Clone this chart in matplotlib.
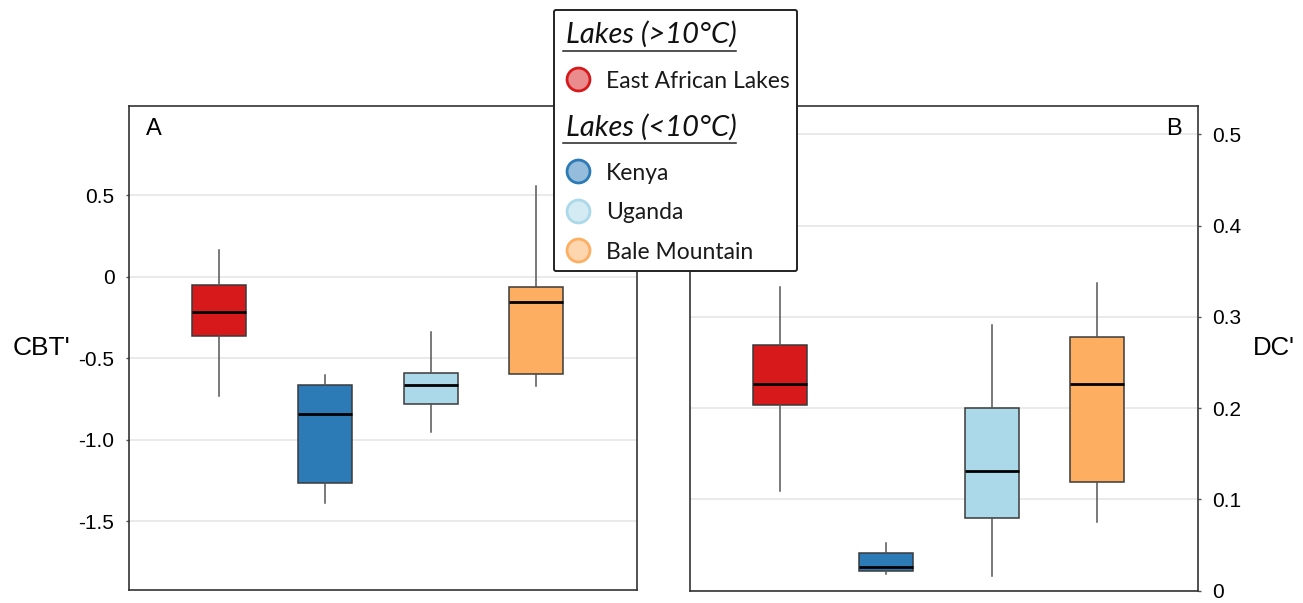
import matplotlib.pyplot as plt
from matplotlib.patches import FancyBboxPatch
from matplotlib.colors import to_rgba

sites = ["East African Lakes", "Kenya", "Uganda", "Bale Mountain"]
colors = ["#d7191c", "#2c7bb6", "#abd9e9", "#fdae61"]

# CBT' summary (whisker low, Q1, median, Q3, whisker high)
cbt_whislo = [-0.736, -1.390, -0.951, -0.669]
cbt_q1 = [-0.362, -1.268, -0.783, -0.601]
cbt_med = [-0.215, -0.846, -0.664, -0.157]
cbt_q3 = [-0.051, -0.664, -0.593, -0.065]
cbt_whishi = [0.164, -0.607, -0.343, 0.558]

# DC' summary
dc_whislo = [0.109, 0.018, 0.016, 0.075]
dc_q1 = [0.203, 0.021, 0.080, 0.119]
dc_med = [0.226, 0.026, 0.131, 0.226]
dc_q3 = [0.269, 0.041, 0.200, 0.278]
dc_whishi = [0.333, 0.052, 0.291, 0.337]

cbt_ticks = [0.5, 0, -0.5, -1.0, -1.5]
cbt_ticklabels = ["0.5", "0", "-0.5", "-1.0", "-1.5"]
dc_ticks = [0, 0.1, 0.2, 0.3, 0.4, 0.5]
dc_ticklabels = ["0", "0.1", "0.2", "0.3", "0.4", "0.5"]

groups = [("Lakes (>10°C)", [0]), ("Lakes (<10°C)", [1, 2, 3])]

plt.rcParams['font.family'] = ['Liberation Sans', 'DejaVu Sans']
W, H = 1303, 603
fig = plt.figure(figsize=(W / 100, H / 100), dpi=100)


def panel(rect, lo, q1, med, q3, hi, ylim, ticks, ticklabels, side, letter, ylabel):
    ax = fig.add_axes(rect)
    stats = []
    for i in range(len(sites)):
        stats.append(dict(whislo=lo[i], q1=q1[i], med=med[i], q3=q3[i], whishi=hi[i], fliers=[]))
    bp = ax.bxp(stats, positions=[1, 2, 3, 4], widths=0.51, patch_artist=True, showcaps=False,
                boxprops=dict(edgecolor='#3a3a3a', linewidth=1.1),
                whiskerprops=dict(color='#555555', linewidth=1.1),
                medianprops=dict(color='black', linewidth=2), zorder=3)
    for patch, c in zip(bp['boxes'], colors):
        patch.set_facecolor(c)
    ax.set_xlim(0.15, 4.95)
    ax.set_ylim(*ylim)
    ax.set_xticks([])
    ax.set_yticks(ticks)
    ax.set_yticklabels(ticklabels)
    ax.grid(axis='y', color='#e6e6e6', linewidth=1.2, zorder=0)
    ax.set_axisbelow(True)
    for s in ax.spines.values():
        s.set_color('#333333')
        s.set_linewidth(1.2)
    if side == 'right':
        ax.yaxis.tick_right()
        ax.text(0.968, 0.975, letter, transform=ax.transAxes, ha='right', va='top', fontsize=17)
        ax.text(1.108, 0.5, ylabel, transform=ax.transAxes, ha='left', va='center', fontsize=18.5)
    else:
        ax.text(0.033, 0.975, letter, transform=ax.transAxes, ha='left', va='top', fontsize=17)
        ax.text(-0.23, 0.5, ylabel, transform=ax.transAxes, ha='left', va='center', fontsize=19)
    ax.tick_params(axis='y', length=2.5, width=1, color='#555555', pad=8, labelsize=15)
    return ax


panel([129 / W, 1 - 590 / H, 508 / W, 484 / H], cbt_whislo, cbt_q1, cbt_med, cbt_q3, cbt_whishi,
      (-1.923, 1.046), cbt_ticks, cbt_ticklabels, 'left', 'A', "CBT'")
panel([690 / W, 1 - 590.6 / H, 508 / W, 484.6 / H], dc_whislo, dc_q1, dc_med, dc_q3, dc_whishi,
      (0, 0.531), dc_ticks, dc_ticklabels, 'right', 'B', "DC'")

# legend box in pixel units
lx0, ly0, lw, lh = 553, 9, 245, 263
leg = fig.add_axes([lx0 / W, 1 - (ly0 + lh) / H, lw / W, lh / H])
leg.set_xlim(0, lw)
leg.set_ylim(lh, 0)
leg.axis('off')
leg.add_patch(FancyBboxPatch((1, 1), lw - 2, lh - 2, boxstyle='round,pad=0,rounding_size=2',
                             facecolor='white', edgecolor='#222222', linewidth=1.4))
lfont = ['Lato', 'DejaVu Sans']
y = 34
for title, idx in groups:
    leg.text(13, y, title, fontsize=21, style='italic', family=lfont, va='baseline', ha='left',
             color='#111111')
    leg.plot([10, 183], [y + 8, y + 8], color='#222222', linewidth=1.1)
    y += 36
    for i in idx:
        leg.plot(25, y, 'o', markersize=16.5, markeredgewidth=2, markeredgecolor=colors[i],
                 markerfacecolor=to_rgba(colors[i], 0.5))
        leg.text(53, y, sites[i], fontsize=16.5, family=lfont, va='center_baseline', ha='left',
                 color='#1a1a1a')
        y += 39.5
    y += 17

fig.savefig('out.png', dpi=100)
